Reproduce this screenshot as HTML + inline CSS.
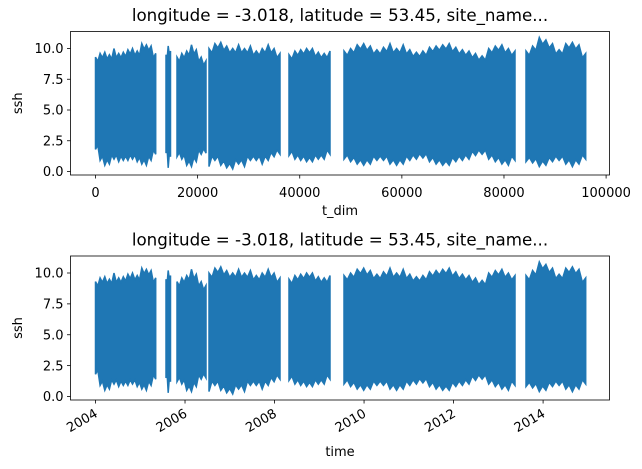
<!DOCTYPE html>
<html><head><meta charset="utf-8"><style>
body{margin:0;background:#fff}
svg{display:block;font-family:"DejaVu Sans","Liberation Sans",sans-serif}
</style></head><body>
<svg id="fig" width="642" height="469" viewBox="0 0 642 469">
<rect width="642" height="469" fill="#fff"/>
</svg>
<script>
const segStarts=[0,13800,15960,22230,37900,48670,84310];
const segEnds=[11790,14690,21640,36130,45930,82160,96000];
const segHighs=[
[9.3,9.6,9.7,9.5,10.0,9.6,9.7,9.9,10.0,9.8,10.4,10.3,10.2,9.6],
[9.5,10.2,9.8],
[9.3,9.6,9.8,10.3,9.9,9.3,9.0],
[10.0,10.4,10.5,10.2,10.0,10.3,10.0,10.2,9.8,10.0,10.3,10.0,9.6],
[9.5,9.8,9.9,10.0,10.0,9.7,9.6,9.8],
[9.8,10.0,10.3,10.4,10.2,9.9,10.1,10.4,10.0,10.3,9.9,9.7,9.8,10.1,10.2,10.3,10.4,10.1,9.9,9.8,9.6,9.4,10.0,10.2,10.3,10.0,9.8],
[9.8,10.2,10.9,10.7,10.4,9.9,10.4,10.5,10.3,9.6]];
const segLows=[
[1.8,0.9,0.5,0.6,1.0,0.8,0.9,0.9,1.0,0.8,0.6,0.5,0.9,1.4],
[1.5,0.3,1.2],
[1.2,1.0,0.5,0.4,0.8,1.4,1.5],
[0.4,0.9,0.5,0.3,0.2,0.6,0.4,0.9,0.9,0.6,0.9,1.2,1.4],
[1.3,1.0,0.9,0.8,0.8,1.0,1.0,1.4],
[1.0,0.8,0.6,0.5,0.6,0.9,0.9,0.6,0.5,0.6,0.9,1.0,1.1,0.8,0.6,0.5,0.5,0.8,0.9,1.0,1.3,1.4,1.0,0.8,0.6,0.5,0.9],
[0.8,0.7,0.4,0.5,0.8,0.9,0.6,0.4,0.6,1.0]];
const yTicks=[0,2.5,5,7.5,10];
const yTickLabels=["0.0","2.5","5.0","7.5","10.0"];
const xTicksTop=[0,20000,40000,60000,80000,100000];
const yearTicks=[2004,2006,2008,2010,2012,2014];
const HOURS_PER_YEAR=8766;

const NS="http://www.w3.org/2000/svg";
const svg=document.getElementById('fig');
function mk(tag,attrs,parent,text){const e=document.createElementNS(NS,tag);for(const k in attrs)e.setAttribute(k,attrs[k]);if(text!==undefined)e.textContent=text;(parent||svg).appendChild(e);return e;}
const X0=70.5,X1=609.5;
const FS=13, TFS=16.7;
function xs(t){return 95.5+t*0.005106;}

function panel(top,bottom,isTime,idx){
  const y0v=bottom-3.5, y10=top+17;
  function ys(v){return y0v+(y10-y0v)*v/10;}
  const g=mk('g',{});
  
  
  for(let s=0;s<segStarts.length;s++){
    const hi=segHighs[s],lo=segLows[s],n=hi.length;
    const a=segStarts[s],b=segEnds[s];
    let pts=[];
    for(let i=0;i<n;i++){
      const t=a+(b-a)*i/(n-1);
      pts.push([xs(t),ys(hi[i])]);
      if(i<n-1){const tm=a+(b-a)*(i+0.5)/(n-1);pts.push([xs(tm),ys(Math.min(hi[i],hi[i+1])-0.35)]);}
    }
    for(let i=n-1;i>=0;i--){
      const t=a+(b-a)*i/(n-1);
      if(i<n-1){const tm=a+(b-a)*(i+0.5)/(n-1);pts.push([xs(tm),ys(Math.max(lo[i],lo[i+1])+0.35)]);}
      pts.push([xs(t),ys(lo[i])]);
    }
    const p=mk('polygon',{points:pts.map(q=>q[0].toFixed(1)+','+q[1].toFixed(1)).join(' '),fill:'#1f77b4',stroke:'#1f77b4','stroke-width':1.5},g);
    
    
  }
  const fr=mk('rect',{x:X0,y:top,width:X1-X0,height:bottom-top,fill:'none',stroke:'#000','stroke-width':0.8},g);
  
  
  yTicks.forEach((v,i)=>{
    const y=ys(v);
    mk('line',{x1:X0-3.5,x2:X0,y1:y,y2:y,stroke:'#000','stroke-width':0.8},g);
    const t=mk('text',{x:X0-7,y:y+4.7,'font-size':FS,'text-anchor':'end',fill:'#000'},g,yTickLabels[i]);
    
    
  });
  const yl=mk('text',{x:0,y:0,'font-size':FS,'text-anchor':'middle',transform:`translate(22,${(top+bottom)/2}) rotate(-90)`},g,'ssh');
  
  
  const ti=mk('text',{x:340,y:top-10.5,'font-size':TFS,'text-anchor':'middle'},g,'longitude = -3.018, latitude = 53.45, site_name...');
  
  
  if(!isTime){
    xTicksTop.forEach(v=>{
      const x=xs(v);
      mk('line',{x1:x,x2:x,y1:bottom,y2:bottom+3.5,stroke:'#000','stroke-width':0.8},g);
      const t=mk('text',{x:x,y:bottom+22,'font-size':FS,'text-anchor':'middle'},g,String(v));
      
      
    });
    const xl=mk('text',{x:340,y:bottom+40,'font-size':FS,'text-anchor':'middle'},g,'t_dim');
    
    
  } else {
    yearTicks.forEach(v=>{
      const x=xs((v-2004)*HOURS_PER_YEAR);
      mk('line',{x1:x,x2:x,y1:bottom,y2:bottom+3.5,stroke:'#000','stroke-width':0.8},g);
      const t=mk('text',{x:0,y:0,'font-size':FS,'text-anchor':'end',transform:`translate(${x+3},${bottom+16}) rotate(-30)`},g,String(v));
      
      
    });
    const xl=mk('text',{x:340,y:bottom+56,'font-size':FS,'text-anchor':'middle'},g,'time');
    
    
  }
}
panel(31.5,175,false,1);
panel(256,400,true,2);
</script>
</body></html>
